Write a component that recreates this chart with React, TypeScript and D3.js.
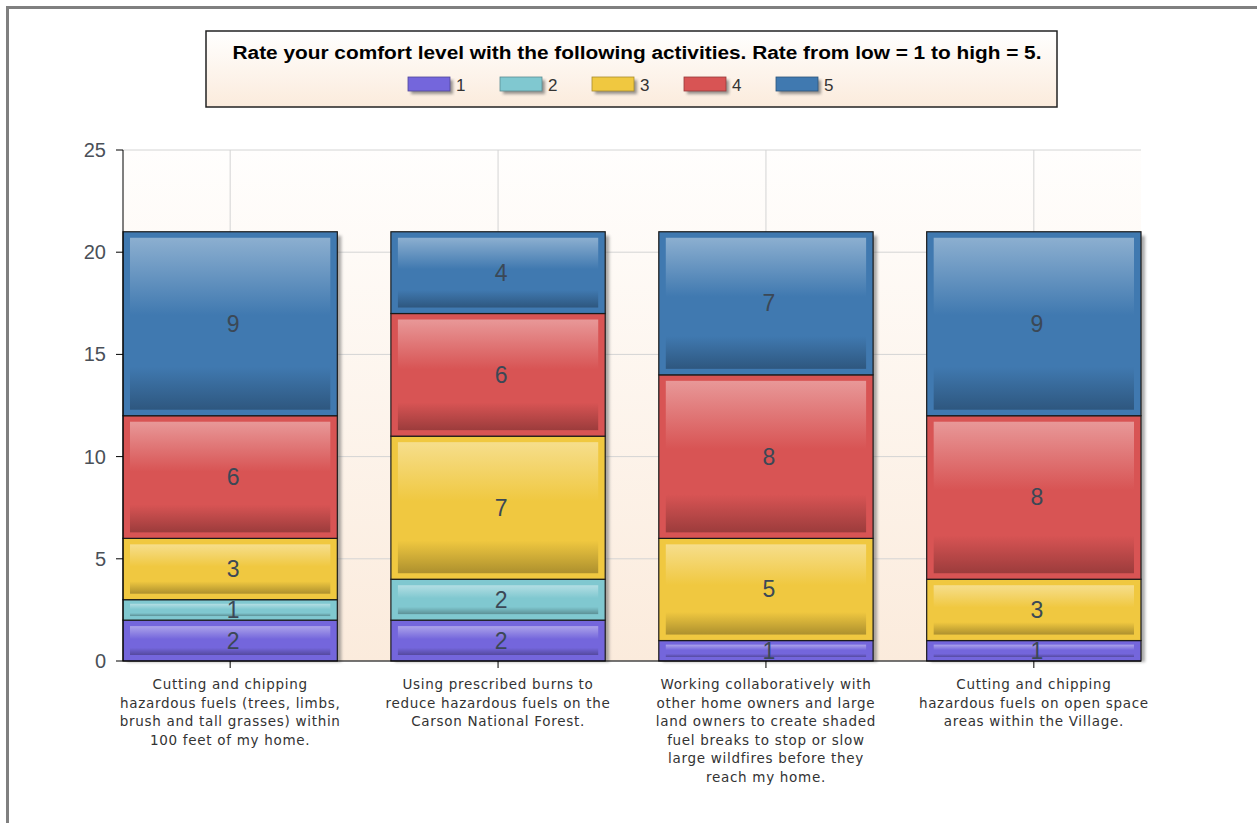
import React from "react";
import * as d3 from "d3";

const categories = [
  "Cutting and chipping hazardous fuels (trees, limbs, brush and tall grasses) within 100 feet of my home.",
  "Using prescribed burns to reduce hazardous fuels on the Carson National Forest.",
  "Working collaboratively with other home owners and large land owners to create shaded fuel breaks to stop or slow large wildfires before they reach my home.",
  "Cutting and chipping hazardous fuels on open space areas within the Village.",
];
const categoryLines = [
  ["Cutting and chipping", "hazardous fuels (trees, limbs,", "brush and tall grasses) within", "100 feet of my home."],
  ["Using prescribed burns to", "reduce hazardous fuels on the", "Carson National Forest."],
  ["Working collaboratively with", "other home owners and large", "land owners to create shaded", "fuel breaks to stop or slow", "large wildfires before they", "reach my home."],
  ["Cutting and chipping", "hazardous fuels on open space", "areas within the Village."],
];
const seriesKeys = ["1", "2", "3", "4", "5"];
const rating1 = [2, 2, 1, 1];
const rating2 = [1, 2, 0, 0];
const rating3 = [3, 7, 5, 3];
const rating4 = [6, 6, 8, 8];
const rating5 = [9, 4, 7, 9];
const yTicks = [0, 5, 10, 15, 20, 25];
const title = "Rate your comfort level with the following activities. Rate from low = 1 to high = 5.";

const colors = ["#7466dc", "#80c8d0", "#f0c840", "#d85454", "#4079b0"];

const W = 1257;
const H = 823;
const plot = { left: 123, right: 1141, top: 150, bottom: 661 };

export default function App() {
  const seriesValues = [rating1, rating2, rating3, rating4, rating5];
  const rows = categories.map((c, i) => {
    const r: any = { cat: c };
    seriesKeys.forEach((k, j) => (r[k] = seriesValues[j][i]));
    return r;
  });
  const stacked = d3.stack().keys(seriesKeys)(rows);

  const x = d3
    .scaleBand<string>()
    .domain(categories)
    .range([plot.left, plot.right])
    .paddingInner(0.2)
    .paddingOuter(0);
  const y = d3.scaleLinear().domain([0, 25]).range([plot.bottom, plot.top]);
  const bw = x.bandwidth();

  const light = (c: string, t: number) => d3.interpolateRgb(c, "#ffffff")(t);
  const dark = (c: string, t: number) => d3.interpolateRgb(c, "#000000")(t);

  return (
    <svg width={W} height={H} style={{ position: "absolute", left: 0, top: 0, display: "block" }}>
      <defs>
        <linearGradient id="plotBg" x1="0" y1="0" x2="0" y2="1">
          <stop offset="0" stopColor="#fffefd" />
          <stop offset="1" stopColor="#fbebdc" />
        </linearGradient>
        <linearGradient id="legBg" x1="0" y1="0" x2="0" y2="1">
          <stop offset="0" stopColor="#ffffff" />
          <stop offset="1" stopColor="#fbebdc" />
        </linearGradient>
        {colors.map((c, i) => (
          <linearGradient key={i} id={`g${i}`} x1="0" y1="0" x2="0" y2="1">
            <stop offset="0" stopColor={light(c, 0.4)} />
            <stop offset="0.45" stopColor={c} />
            <stop offset="0.75" stopColor={c} />
            <stop offset="1" stopColor={dark(c, 0.28)} />
          </linearGradient>
        ))}
        <filter id="shadow" x="-10%" y="-10%" width="130%" height="130%">
          <feGaussianBlur stdDeviation="1.5" />
        </filter>
      </defs>
      <rect x={0} y={0} width={W} height={H} fill="#ffffff" />
      {/* outer frame */}
      <rect x={7.5} y={7.5} width={W + 20} height={H + 20} fill="none" stroke="#808080" strokeWidth={3} />

      {/* legend */}
      <rect x={206} y={31} width={851} height={76} fill="url(#legBg)" stroke="#222" strokeWidth={1.5} />
      <text
        x={637}
        y={59}
        textAnchor="middle"
        fontFamily="Arial, 'Liberation Sans', sans-serif"
        fontWeight="bold"
        fontSize={18}
        fill="#000"
        textLength={809}
        lengthAdjust="spacingAndGlyphs"
      >
        {title}
      </text>
      {seriesKeys.map((k, i) => {
        const lx = 408 + i * 92;
        return (
          <g key={k}>
            <rect x={lx + 3} y={80} width={42} height={14} fill="#555" opacity={0.6} filter="url(#shadow)" />
            <rect x={lx} y={77} width={42} height={14} fill={colors[i]} stroke={dark(colors[i], 0.3)} strokeWidth={0.8} />
            <text x={lx + 48} y={91} fontFamily="Arial, 'Liberation Sans', sans-serif" fontSize={17} fill="#333">
              {k}
            </text>
          </g>
        );
      })}

      {/* plot area */}
      <rect x={plot.left} y={plot.top} width={plot.right - plot.left} height={plot.bottom - plot.top} fill="url(#plotBg)" />
      {yTicks.map((t) => (
        <line key={t} x1={plot.left} x2={plot.right} y1={y(t)} y2={y(t)} stroke="#d4d4d4" strokeWidth={1} />
      ))}
      {categories.map((c) => (
        <line
          key={c}
          x1={x(c)! + bw / 2}
          x2={x(c)! + bw / 2}
          y1={plot.top}
          y2={plot.bottom}
          stroke="#d4d4d4"
          strokeWidth={1}
        />
      ))}

      {/* bar shadows */}
      {categories.map((c, i) => {
        const top = stacked[stacked.length - 1][i][1];
        return (
          <rect
            key={c}
            x={x(c)! + 4}
            y={y(top) + 4}
            width={bw}
            height={y(0) - y(top) - 3}
            fill="#666"
            opacity={0.55}
            filter="url(#shadow)"
          />
        );
      })}

      {/* bars */}
      {stacked.map((s, si) =>
        s.map((d, i) => {
          const v = d[1] - d[0];
          if (v <= 0) return null;
          const cat = categories[i];
          const x0 = x(cat)!;
          const y0 = y(d[1]);
          const h = y(d[0]) - y(d[1]);
          const insetY = Math.min(6, h * 0.2);
          const insetX = 7;
          return (
            <g key={`${si}-${i}`}>
              <rect x={x0} y={y0} width={bw} height={h} fill={colors[si]} stroke="#1a1a1a" strokeWidth={1.2} />
              <rect
                x={x0 + insetX}
                y={y0 + insetY}
                width={bw - insetX * 2}
                height={h - insetY * 2}
                fill={`url(#g${si})`}
              />
              <text
                x={x0 + bw / 2 + 3}
                y={y0 + h / 2 + 8}
                textAnchor="middle"
                fontFamily="Arial, 'Liberation Sans', sans-serif"
                fontSize={23}
                fill="#3b4856"
              >
                {v}
              </text>
            </g>
          );
        })
      )}

      {/* axes */}
      <line x1={plot.left} x2={plot.left} y1={plot.top} y2={plot.bottom} stroke="#000" strokeWidth={1} />
      <line x1={plot.left} x2={plot.right} y1={plot.bottom} y2={plot.bottom} stroke="#000" strokeWidth={1} />
      {yTicks.map((t) => (
        <g key={t}>
          <line x1={plot.left - 7} x2={plot.left} y1={y(t)} y2={y(t)} stroke="#000" strokeWidth={1} />
          <text
            x={106}
            y={y(t) + 7}
            textAnchor="end"
            fontFamily="Arial, 'Liberation Sans', sans-serif"
            fontSize={20}
            fill="#4a5058"
          >
            {t}
          </text>
        </g>
      ))}
      {categories.map((c, i) => {
        const cx = x(c)! + bw / 2;
        return (
          <g key={c}>
            <line x1={cx} x2={cx} y1={plot.bottom} y2={plot.bottom + 7} stroke="#000" strokeWidth={1} />
            {categoryLines[i].map((ln, j) => (
              <text
                key={j}
                x={cx}
                y={689 + j * 18.5}
                textAnchor="middle"
                fontFamily="'DejaVu Sans', Verdana, sans-serif"
                fontSize={13.5}
                letterSpacing={0.7}
                fill="#333"
              >
                {ln}
              </text>
            ))}
          </g>
        );
      })}
    </svg>
  );
}
